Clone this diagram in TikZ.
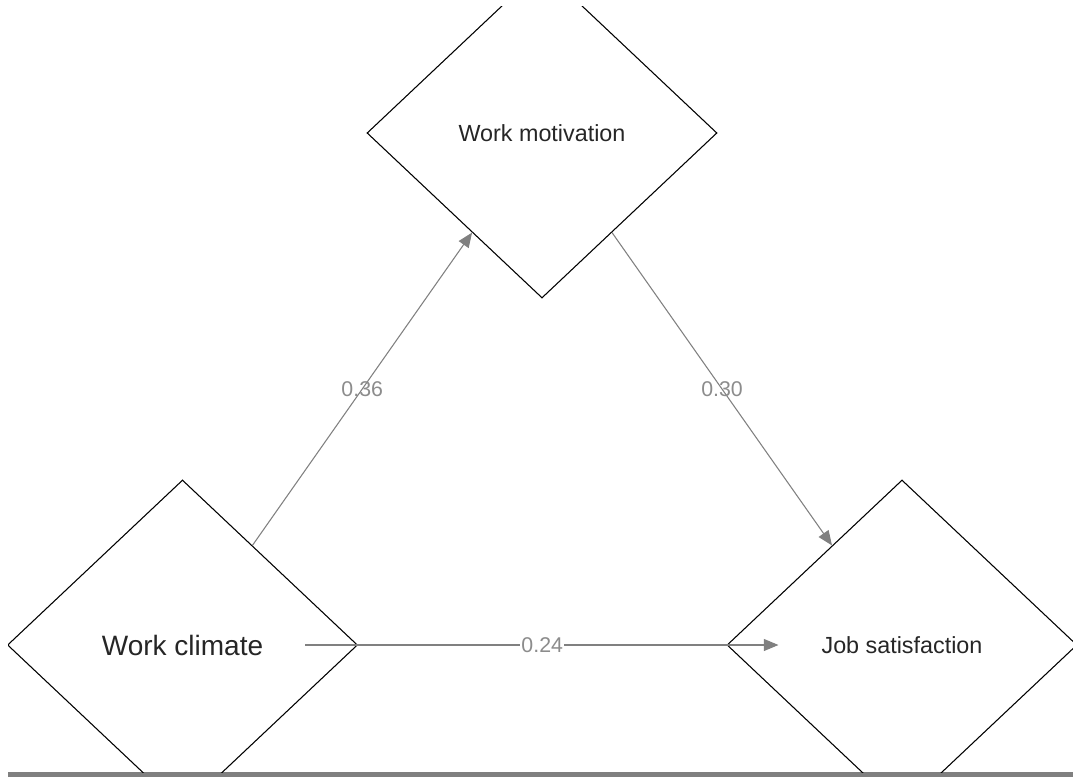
\documentclass[tikz,border=0pt]{standalone}
\usepackage{fontspec}
\setmainfont{Liberation Sans}
\usetikzlibrary{shapes.geometric,arrows.meta}
\begin{document}
\begin{tikzpicture}[x=0.75pt,y=-0.75pt,
 var/.style={draw=black,line width=0.8pt,diamond,inner sep=0pt,text=black!85,
  minimum width=262.5pt,minimum height=247.5pt,font=\fontsize{17.5}{20}\selectfont},
 path/.style={draw=gray,line width=0.8pt,-{Triangle[length=11pt,width=9pt]}},
 coef/.style={text=gray!90,font=\fontsize{16}{18}\selectfont}]
 \useasboundingbox (0,0) rectangle (1073,777);
 \fill[gray] (8,772) rectangle (1073,777);
 \begin{scope}
 \clip (8,7) rectangle (1073,772);
 \node[var] (mot) at (542,133) {\raisebox{-1.5pt}{Work motivation}};
 \node[var,font=\fontsize{21}{24}\selectfont] (clim) at (182.5,645) {Work climate};
 \node[var] (job) at (902,645) {Job satisfaction};
 \draw[path] (clim) -- node[coef] {0.36} (mot);
 \draw[path] (mot) -- node[coef] {0.30} (job);
 \draw[path,shorten <=-39.4pt,shorten >=-39pt] (clim) -- node[coef,fill=white,inner sep=1pt] {0.24} (job);
 \end{scope}
\end{tikzpicture}
\end{document}
